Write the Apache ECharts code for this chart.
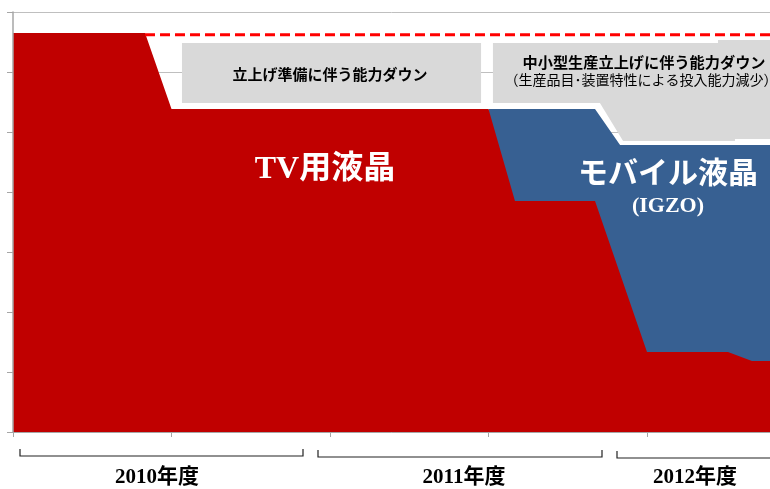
<!DOCTYPE html>
<html><head><meta charset="utf-8">
<script src="https://cdn.jsdelivr.net/npm/echarts@6/dist/echarts.min.js"></script>
<style>html,body{margin:0;padding:0;background:#fff}#c{width:770px;height:489px}</style>
</head><body><div id="c"></div>
<script>
// x: half-year periods from start of FY2010; y: production capacity (relative units)
const tvX = [0, 0.833, 1.0, 3.0, 3.167, 3.672, 4.0, 4.511, 4.662, 5.0];
const tvY = [6.65, 6.65, 5.383, 5.383, 3.85, 3.85, 1.333, 1.333, 1.183, 1.183];
// mobile LCD: top of stack (TV + mobile)
const mobileX = [3.0, 3.672, 3.83, 5.0];
const mobileY = [5.383, 5.383, 4.783, 4.783];
// total capacity (dashed line)
const capX = [0.833, 5.0];
const capY = [6.62, 6.62];
// capacity-down regions
const prepDownX = [1.066, 2.953, 2.953, 1.066];
const prepDownY = [6.483, 6.483, 5.483, 5.483];
const smallDownX = [3.028, 4.448, 4.448, 5.0, 5.0, 4.555, 4.555, 3.849, 3.703, 3.028];
const smallDownY = [6.483, 6.483, 6.533, 6.533, 4.883, 4.883, 4.85, 4.85, 5.483, 5.483];
const yearLabels = ['2010年度', '2011年度', '2012年度'];
const xVisibleMax = 4.776; // the chart is cut at the right edge

const zip = (xs, ys) => xs.map((v, i) => [v, ys[i]]);
const shapes = [{x: prepDownX, y: prepDownY}, {x: smallDownX, y: smallDownY}];

const chart = echarts.init(document.getElementById('c'), null, {renderer: 'canvas'});
const axisGray = '#A6A6A6';
const cjk = '"Noto Sans CJK JP", sans-serif';
const serifCjk = '"Liberation Serif", "Noto Sans CJK JP", serif';

chart.setOption({
  animation: false,
  backgroundColor: '#fff',
  grid: {left: 13, right: 0, top: 12, bottom: 57, containLabel: false},
  xAxis: {
    type: 'value', min: 0, max: xVisibleMax, interval: 1, z: 10,
    axisLine: {show: true, lineStyle: {color: axisGray, width: 1}},
    axisTick: {show: true, length: 5, lineStyle: {color: axisGray}},
    axisLabel: {show: false}, splitLine: {show: false}
  },
  yAxis: [{
    type: 'value', min: 0, max: 7, interval: 1, z: 10,
    axisLine: {show: true, lineStyle: {color: axisGray, width: 1.5}},
    axisTick: {show: true, length: 6, lineStyle: {color: axisGray}},
    axisLabel: {show: false}, splitLine: {show: false}
  }, {
    type: 'value', min: 0, max: 7, interval: 1, z: 0, position: 'left',
    axisLine: {show: false}, axisTick: {show: false}, axisLabel: {show: false},
    splitLine: {show: true, lineStyle: {color: '#BFBFBF', width: 1}}
  }],
  series: [{
    type: 'custom', z: 2, yAxisIndex: 0, clip: true,
    data: shapes.map(s => [s.x[0], s.y[0]]),
    renderItem: function (params, api) {
      const s = shapes[params.dataIndex];
      const pts = s.x.map((v, i) => api.coord([v, s.y[i]]));
      return {type: 'polygon', shape: {points: pts}, style: {fill: '#D9D9D9'}};
    }
  }, {
    name: 'モバイル液晶', type: 'line', z: 3, yAxisIndex: 0,
    data: zip(mobileX, mobileY), symbol: 'none',
    lineStyle: {width: 0}, areaStyle: {color: '#376092', opacity: 1}
  }, {
    name: 'TV用液晶', type: 'line', z: 4, yAxisIndex: 0,
    data: zip(tvX, tvY), symbol: 'none',
    lineStyle: {width: 0}, areaStyle: {color: '#C00000', opacity: 1}
  }, {
    name: '能力', type: 'line', z: 5, yAxisIndex: 0,
    data: zip(capX, capY), symbol: 'none',
    lineStyle: {color: '#FF0000', width: 3, type: [10, 5]}
  }],
  graphic: [
    {type: 'text', x: 330, y: 74, z: 100, style: {text: '立上げ準備に伴う能力ダウン', font: 'bold 15px ' + cjk, fill: '#000', align: 'center', verticalAlign: 'middle'}},
    {type: 'text', x: 644, y: 62, z: 100, style: {text: '中小型生産立上げに伴う能力ダウン', font: 'bold 15.2px ' + cjk, fill: '#000', align: 'center', verticalAlign: 'middle'}},
    {type: 'text', x: 641, y: 80, z: 100, style: {text: '（生産品目･装置特性による投入能力減少）', font: '14px ' + cjk, fill: '#000', align: 'center', verticalAlign: 'middle'}},
    {type: 'text', x: 325, y: 170, z: 100, style: {text: 'TV用液晶', font: 'bold 32px ' + serifCjk, fill: '#fff', align: 'center', verticalAlign: 'middle'}},
    {type: 'text', x: 668, y: 172, z: 100, style: {text: 'モバイル液晶', font: 'bold 30px ' + cjk, fill: '#fff', align: 'center', verticalAlign: 'middle'}},
    {type: 'text', x: 668, y: 206, z: 100, style: {text: '(IGZO)', font: 'bold 22px ' + serifCjk, fill: '#fff', align: 'center', verticalAlign: 'middle'}},
    {type: 'polyline', z: 100, shape: {points: [[20, 449], [20, 456], [303, 456], [303, 449]]}, style: {stroke: '#222', lineWidth: 1.2, fill: null}},
    {type: 'polyline', z: 100, shape: {points: [[318, 450], [318, 457], [602, 457], [602, 450]]}, style: {stroke: '#222', lineWidth: 1.2, fill: null}},
    {type: 'polyline', z: 100, shape: {points: [[617, 451], [617, 458], [790, 458]]}, style: {stroke: '#222', lineWidth: 1.2, fill: null}},
    {type: 'text', x: 157, y: 478, z: 100, style: {text: yearLabels[0], font: 'bold 21px ' + serifCjk, fill: '#000', align: 'center', verticalAlign: 'middle'}},
    {type: 'text', x: 464, y: 478, z: 100, style: {text: yearLabels[1], font: 'bold 21px ' + serifCjk, fill: '#000', align: 'center', verticalAlign: 'middle'}},
    {type: 'text', x: 695, y: 478, z: 100, style: {text: yearLabels[2], font: 'bold 21px ' + serifCjk, fill: '#000', align: 'center', verticalAlign: 'middle'}}
  ]
});
</script>
</body></html>
